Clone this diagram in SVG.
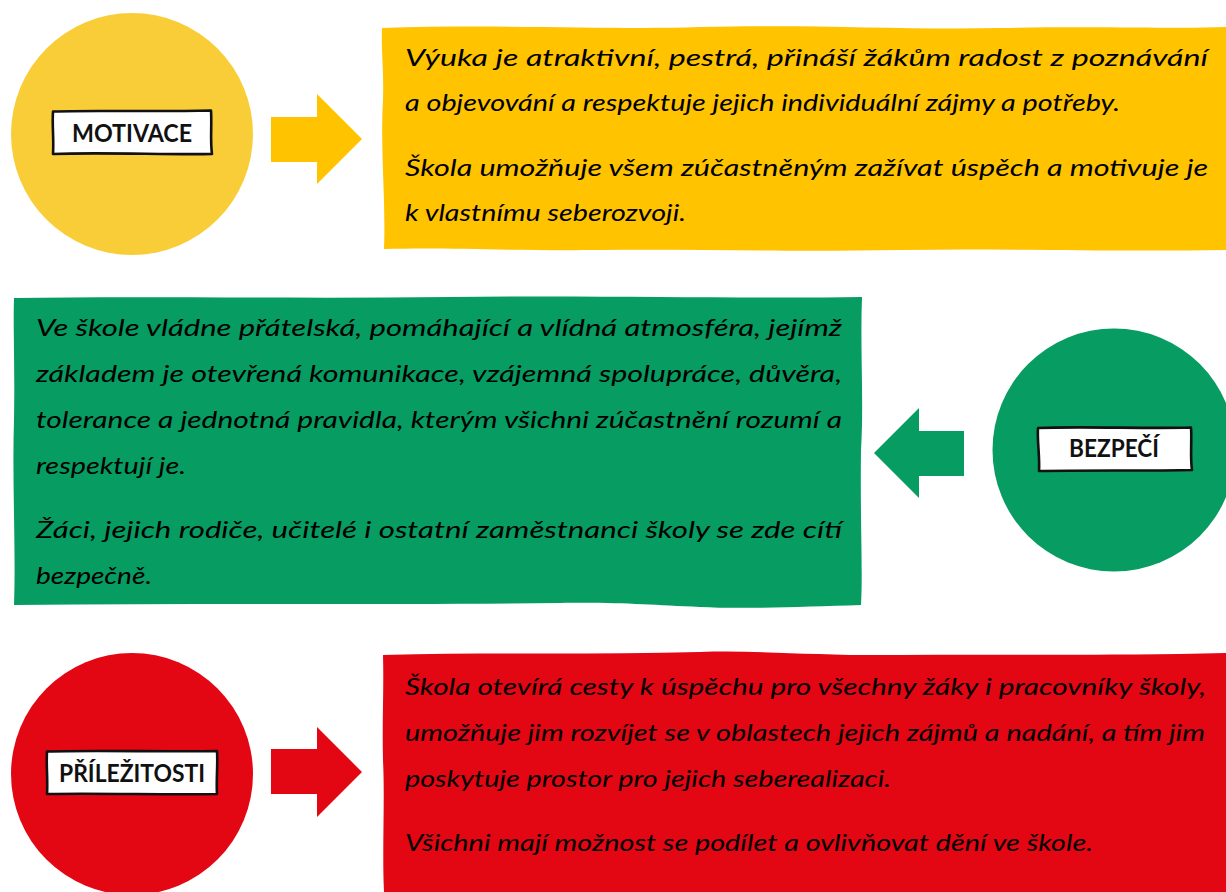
<svg xmlns="http://www.w3.org/2000/svg" width="1226" height="892" viewBox="0 0 1226 892">
<style>
.yc{fill:#F9CD38}
.yl{fill:#FFC300}
.gr{fill:#079C61}
.rd{fill:#E30613}
.lbl{fill:#fff;stroke:#111;stroke-width:2.6;stroke-linejoin:round}
.lt{font-family:Lato,"Open Sans","Liberation Sans",sans-serif;font-weight:700;font-size:24px;fill:#111;text-anchor:middle}
.bt{font-family:Lato,"Open Sans","Liberation Sans",sans-serif;font-style:italic;font-size:24px;fill:#000}
</style>
<rect width="1226" height="892" fill="#fff"/>
<g id="motivace">
<circle class="yc" cx="132" cy="134" r="121"/>
<path class="lbl" d="M53,111.5 C90,110 150,112 211,110.5 C212,125 210,140 212,154 C170,155 100,152 53,154 C54,140 52,125 53,111.5 Z"/>
<text class="lt" x="132" y="142" textLength="120" lengthAdjust="spacingAndGlyphs">MOTIVACE</text>
</g>
<g id="motivace-text">
<path class="yl" d="M382,28 C500,24 620,30 700,27 C820,24 900,30 1000,28 C1100,26 1180,29 1226,27 L1226,250 C1100,252 1000,248 900,250 C780,252 700,249 600,250 C500,251 450,247 384,249 C386,200 380,150 383,100 C384,70 381,50 382,28 Z"/>
<text class="bt" x="405" y="66" textLength="803" lengthAdjust="spacingAndGlyphs">Výuka je atraktivní, pestrá, přináší žákům radost z poznávání</text>
<text class="bt" x="405" y="111" textLength="715" lengthAdjust="spacingAndGlyphs">a objevování a respektuje jejich individuální zájmy a potřeby.</text>
<text class="bt" x="405" y="176" textLength="803" lengthAdjust="spacingAndGlyphs">Škola umožňuje všem zúčastněným zažívat úspěch a motivuje je</text>
<text class="bt" x="405" y="221" textLength="281" lengthAdjust="spacingAndGlyphs">k vlastnímu seberozvoji.</text>
</g>
<g id="bezpeci">
<circle class="gr" cx="1114" cy="450" r="121.5"/>
<path class="lbl" d="M1038,428 C1080,426 1150,429 1191,427.5 C1192,440 1190,458 1192,470 C1150,471 1080,470 1039,471 C1040,458 1037,440 1038,428 Z"/>
<text class="lt" x="1114" y="457" textLength="90" lengthAdjust="spacingAndGlyphs">BEZPEČÍ</text>
</g>
<g id="bezpeci-text">
<path class="gr" d="M14,298 C150,296 300,299 450,297 C600,295 750,299 862,297 C860,350 864,400 861,450 C860,520 863,570 861,605 C800,607 740,609 700,607 C650,605 620,602 560,603 C400,605 200,603 14,605 C16,550 12,480 14,420 C15,360 13,330 14,298 Z"/>
<text class="bt" x="36" y="336" textLength="806" lengthAdjust="spacingAndGlyphs">Ve škole vládne přátelská, pomáhající a vlídná atmosféra, jejímž</text>
<text class="bt" x="36" y="382" textLength="806" lengthAdjust="spacingAndGlyphs">základem je otevřená komunikace, vzájemná spolupráce, důvěra,</text>
<text class="bt" x="36" y="428" textLength="806" lengthAdjust="spacingAndGlyphs">tolerance a jednotná pravidla, kterým všichni zúčastnění rozumí a</text>
<text class="bt" x="36" y="474" textLength="150" lengthAdjust="spacingAndGlyphs">respektují je.</text>
<text class="bt" x="36" y="538" textLength="806" lengthAdjust="spacingAndGlyphs">Žáci, jejich rodiče, učitelé i ostatní zaměstnanci školy se zde cítí</text>
<text class="bt" x="36" y="584" textLength="116" lengthAdjust="spacingAndGlyphs">bezpečně.</text>
</g>
<g id="prilezitosti">
<circle class="rd" cx="132" cy="774" r="121"/>
<path class="lbl" d="M47,751.5 C90,750 170,752 217,751 C218,765 216,780 217,794 C170,795 100,793 47,794 C48,780 46,765 47,751.5 Z"/>
<text class="lt" x="132" y="782" textLength="146" lengthAdjust="spacingAndGlyphs">PŘÍLEŽITOSTI</text>
</g>
<g id="prilezitosti-text">
<path class="rd" d="M383,655 C500,652 600,655 700,652 C760,650 820,656 900,655 C1000,654 1100,656 1226,653 L1226,892 L384,892 C382,850 385,800 383,760 C382,720 384,690 383,655 Z"/>
<text class="bt" x="405" y="695" textLength="801" lengthAdjust="spacingAndGlyphs">Škola otevírá cesty k úspěchu pro všechny žáky i pracovníky školy,</text>
<text class="bt" x="405" y="741" textLength="800" lengthAdjust="spacingAndGlyphs">umožňuje jim rozvíjet se v oblastech jejich zájmů a nadání, a tím jim</text>
<text class="bt" x="405" y="787" textLength="486" lengthAdjust="spacingAndGlyphs">poskytuje prostor pro jejich seberealizaci.</text>
<text class="bt" x="405" y="851" textLength="688" lengthAdjust="spacingAndGlyphs">Všichni mají možnost se podílet a ovlivňovat dění ve škole.</text>
</g>
<g id="connectors">
<polygon class="yl" points="271,117 317,117 317,94 362,139 317,184 317,162 271,162"/>
<polygon class="gr" points="964,431 919,431 919,408 874,453 919,498 919,476 964,476"/>
<polygon class="rd" points="271,749 317,749 317,727 362,772 317,817 317,794 271,794"/>
</g>
</svg>
